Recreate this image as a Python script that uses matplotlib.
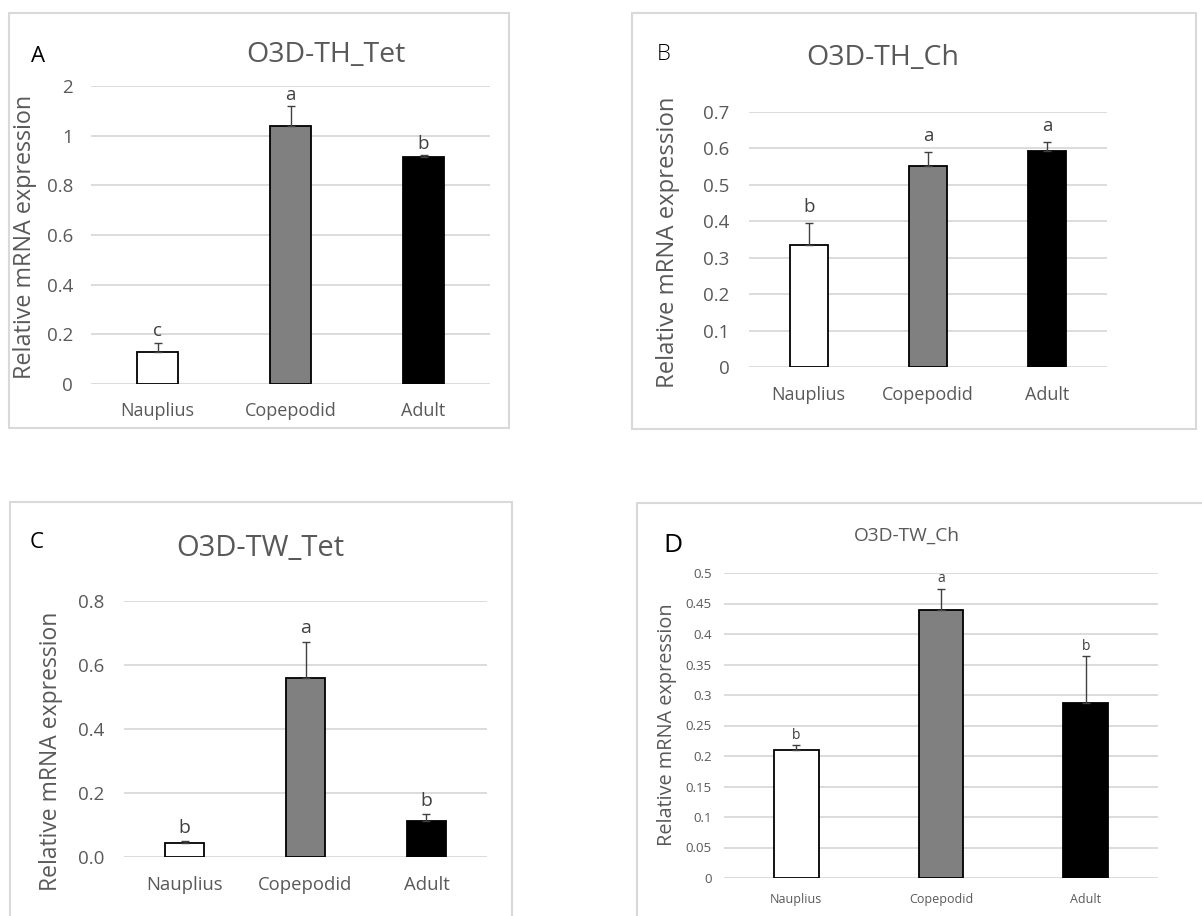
import matplotlib
matplotlib.use("Agg")
import matplotlib.pyplot as plt
from matplotlib.patches import Rectangle
from matplotlib.ticker import FixedLocator, FixedFormatter

W, H = 1202, 916

# ---------------- data ----------------
stages = ["Nauplius", "Copepodid", "Adult"]
bar_colors = ["#ffffff", "#808080", "#000000"]

th_tet_mean = [0.13, 1.04, 0.915]
th_tet_err = [0.036, 0.078, 0.006]
th_tet_sig = ["c", "a", "b"]
th_tet_ticks = [0, 0.2, 0.4, 0.6, 0.8, 1.0, 1.2]
th_tet_ticklabels = ["0", "0.2", "0.4", "0.6", "0.8", "1", "2"]

th_ch_mean = [0.335, 0.551, 0.593]
th_ch_err = [0.059, 0.039, 0.024]
th_ch_sig = ["b", "a", "a"]
th_ch_ticks = [0, 0.1, 0.2, 0.3, 0.4, 0.5, 0.6, 0.7]
th_ch_ticklabels = ["0", "0.1", "0.2", "0.3", "0.4", "0.5", "0.6", "0.7"]

tw_tet_mean = [0.044, 0.559, 0.113]
tw_tet_err = [0.005, 0.113, 0.020]
tw_tet_sig = ["b", "a", "b"]
tw_tet_ticks = [0, 0.2, 0.4, 0.6, 0.8]
tw_tet_ticklabels = ["0.0", "0.2", "0.4", "0.6", "0.8"]

tw_ch_mean = [0.210, 0.439, 0.287]
tw_ch_err = [0.008, 0.035, 0.077]
tw_ch_sig = ["b", "a", "b"]
tw_ch_ticks = [0, 0.05, 0.1, 0.15, 0.2, 0.25, 0.3, 0.35, 0.4, 0.45, 0.5]
tw_ch_ticklabels = ["0", "0.05", "0.1", "0.15", "0.2", "0.25", "0.3", "0.35", "0.4", "0.45", "0.5"]

# ---------------- style ----------------
FONT = ["Open Sans", "DejaVu Sans"]
plt.rcParams["font.family"] = FONT
TXT = "#595959"
GRID = "#d9d9d9"

fig = plt.figure(figsize=(W / 100, H / 100), dpi=100)
fig.patch.set_facecolor("white")


def fx(x):
    return x / W


def fy(y):
    return 1 - y / H


def frame(x0, y0, x1, y1):
    r = Rectangle((fx(x0), fy(y1)), fx(x1) - fx(x0), fy(y0) - fy(y1),
                  transform=fig.transFigure, fill=False, edgecolor=GRID,
                  linewidth=1.5, zorder=0)
    fig.patches.append(r)


def panel(px0, py0, px1, py1, ticks, ticklabels, mean, err, sig,
          width, tick_fs, xtick_fs, ytick_pad, xtick_pad, sig_fs, sig_off,
          ylabel_fs, ylabel_x, ylabel_y, capsize=3.2):
    ax = fig.add_axes([fx(px0), fy(py1), fx(px1) - fx(px0), fy(py0) - fy(py1)])
    ax.set_facecolor("none")
    x = list(range(len(stages)))
    ax.bar(x, mean, width=width, color=bar_colors, edgecolor="black",
           linewidth=1.3, zorder=3)
    ax.errorbar(x, mean, yerr=[[0] * len(err), err], fmt="none",
                ecolor="#404040", elinewidth=1.0, capsize=capsize, capthick=1.0,
                zorder=4)
    for xi, m, e, s in zip(x, mean, err, sig):
        ax.text(xi, m + e + sig_off, s, ha="center", va="bottom",
                fontsize=sig_fs, color="#404040")
    ax.set_xlim(-0.5, len(stages) - 0.5)
    ax.set_ylim(ticks[0], ticks[-1])
    ax.yaxis.set_major_locator(FixedLocator(ticks))
    ax.yaxis.set_major_formatter(FixedFormatter(ticklabels))
    ax.set_xticks(x)
    ax.set_xticklabels(stages)
    for sp in ax.spines.values():
        sp.set_visible(False)
    ax.grid(axis="y", color=GRID, linewidth=1.3, zorder=0)
    ax.set_axisbelow(True)
    ax.tick_params(axis="both", length=0, colors=TXT)
    ax.tick_params(axis="y", labelsize=tick_fs, pad=ytick_pad)
    ax.tick_params(axis="x", labelsize=xtick_fs, pad=xtick_pad)
    ax.set_ylabel("Relative mRNA expression", fontsize=ylabel_fs, color=TXT)
    # ylabel_x is the right (descender) edge of the rotated label
    lx = (ylabel_x - px0) / (px1 - px0)
    ly = (py1 - ylabel_y) / (py1 - py0)
    ax.yaxis.set_label_coords(lx, ly)
    return ax


# ---------------- Panel A ----------------
frame(9, 13, 509, 428)
panel(91, 86, 490, 384, th_tet_ticks, th_tet_ticklabels, th_tet_mean,
      th_tet_err, th_tet_sig, 0.31, 13.5, 13, 13, 13, 13.5, 0.01, 16.8, 37, 237)
fig.text(fx(326), fy(55), "O3D-TH_Tet", ha="center", va="center", fontsize=20.5,
         color=TXT)
fig.text(fx(38), fy(57), "A", ha="center", va="center", fontsize=16, color="black")

# ---------------- Panel B ----------------
frame(632, 13, 1196, 429)
panel(749, 112, 1107, 367, th_ch_ticks, th_ch_ticklabels, th_ch_mean,
      th_ch_err, th_ch_sig, 0.32, 13.5, 13, 14, 14, 13.5, 0.02, 17.2, 680, 242)
fig.text(fx(883), fy(58), "O3D-TH_Ch", ha="center", va="center", fontsize=20.5,
         color=TXT)
fig.text(fx(664), fy(55), "B", ha="center", va="center", fontsize=16,
         color="black", fontweight="light")

# ---------------- Panel C ----------------
frame(10, 502, 512, 930)
panel(124, 601, 487, 857, tw_tet_ticks, tw_tet_ticklabels, tw_tet_mean,
      tw_tet_err, tw_tet_sig, 0.32, 13.5, 13.3, 14, 14, 14, 0.015, 16.5, 63, 751)
fig.text(fx(260), fy(548), "O3D-TW_Tet", ha="center", va="center", fontsize=21,
         color=TXT)
fig.text(fx(37), fy(543), "C", ha="center", va="center", fontsize=16, color="black")

# ---------------- Panel D ----------------
frame(637, 503, 1215, 930)
panel(724, 573, 1158, 878, tw_ch_ticks, tw_ch_ticklabels, tw_ch_mean,
      tw_ch_err, tw_ch_sig, 0.31, 9.5, 9, 9, 11, 10, 0.004, 14.3, 677, 725,
      capsize=3.0)
fig.text(fx(907), fy(536), "O3D-TW_Ch", ha="center", va="center", fontsize=13.8,
         color=TXT)
fig.text(fx(673), fy(545), "D", ha="center", va="center", fontsize=19, color="black")

fig.savefig("out.png", dpi=100, facecolor="white")
